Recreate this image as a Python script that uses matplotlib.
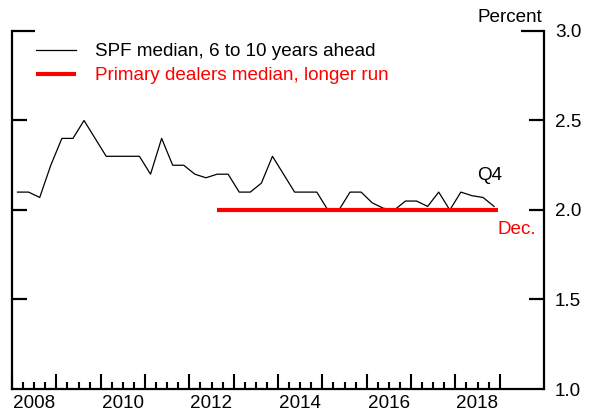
import matplotlib
matplotlib.use("Agg")
import matplotlib.pyplot as plt
from matplotlib.ticker import FixedLocator, FuncFormatter

plt.rcParams['font.family'] = ['Liberation Sans', 'DejaVu Sans']

# SPF median, 6 to 10 years ahead: quarterly, 2008Q1 .. 2018Q4
spf_start_year = 2008
spf_values = [2.10, 2.10, 2.07, 2.25,
              2.40, 2.40, 2.50, 2.40,
              2.30, 2.30, 2.30, 2.30,
              2.20, 2.40, 2.25, 2.25,
              2.20, 2.18, 2.20, 2.20,
              2.10, 2.10, 2.15, 2.30,
              2.20, 2.10, 2.10, 2.10,
              2.00, 2.00, 2.10, 2.10,
              2.04, 2.01, 2.00, 2.05,
              2.05, 2.02, 2.10, 2.00,
              2.10, 2.08, 2.07, 2.02]
spf_dates = [spf_start_year + (i + 0.5) / 4 for i in range(len(spf_values))]

# Primary dealers median, longer run (Aug 2012 .. Dec 2018)
pd_dates = [2012 + 7.5 / 12, 2018 + 11.5 / 12]
pd_values = [2.0, 2.0]

year_ticks = list(range(2008, 2020))
year_labels = {2008.5: "2008", 2010.5: "2010", 2012.5: "2012",
               2014.5: "2014", 2016.5: "2016", 2018.5: "2018"}
y_ticks = [1.0, 1.5, 2.0, 2.5, 3.0]

FS = 13.6
W, H = 592, 415
fig = plt.figure(figsize=(W / 100, H / 100), dpi=100)
ax = fig.add_axes([12 / W, 1 - 389 / H, (544 - 12) / W, (389 - 31) / H])

ax.plot(spf_dates, spf_values, color='black', lw=0.9,
        label='SPF median, 6 to 10 years ahead')
ax.plot(pd_dates, pd_values, color='#ff0000', lw=3.0, solid_capstyle='butt',
        label='Primary dealers median, longer run')

ax.set_xlim(2008, 2020)
ax.set_ylim(1.0, 3.0)

for s in ['left', 'right', 'bottom']:
    ax.spines[s].set_linewidth(1.6)
ax.spines['top'].set_visible(False)

# x axis
ax.xaxis.set_major_locator(FixedLocator(year_ticks))
ax.xaxis.set_major_formatter(FuncFormatter(lambda v, p: ""))
minor = [y + q / 4 for y in range(2008, 2019) for q in (1, 2, 3)]
ax.xaxis.set_minor_locator(FixedLocator(minor))
ax.xaxis.set_minor_formatter(FuncFormatter(lambda v, p: year_labels.get(round(v, 2), "")))
ax.tick_params(axis='x', which='major', direction='in', length=10.8, width=1.5,
               top=False)
ax.tick_params(axis='x', which='minor', direction='in', length=5, width=1.5,
               top=False, labelsize=FS, pad=4)

# y axis
ax.yaxis.set_major_locator(FixedLocator(y_ticks))
ax.yaxis.set_major_formatter(FuncFormatter(lambda v, p: f"{v:.1f}"))
ax.tick_params(axis='y', which='major', direction='in', length=10.8, width=1.6,
               left=True, right=True, labelleft=False, labelright=True,
               labelsize=FS, pad=8)
top_tick = ax.yaxis.get_major_ticks()[-1]
top_tick.tick1line.set_markersize(16.5)
top_tick.tick2line.set_markersize(16.5)
bot_tick = ax.yaxis.get_major_ticks()[0]
bot_tick.tick1line.set_visible(False)
bot_tick.tick2line.set_visible(False)

ax.text(0.9965, 1.013, "Percent", transform=ax.transAxes, ha='right', va='bottom',
        fontsize=FS)

ax.text(2018.5, 2.195, "Q4", fontsize=FS, ha='left', va='center', color='black')
ax.text(2018.94, 1.89, "Dec.", fontsize=FS, ha='left', va='center', color='#ff0000')

leg = ax.legend(loc='upper left', bbox_to_anchor=(0.022, 1.0), frameon=False,
                fontsize=FS, handlelength=2.1, handletextpad=1.05,
                labelspacing=0.35, borderaxespad=0.25, labelcolor='linecolor')

fig.savefig("out.png", dpi=100)
